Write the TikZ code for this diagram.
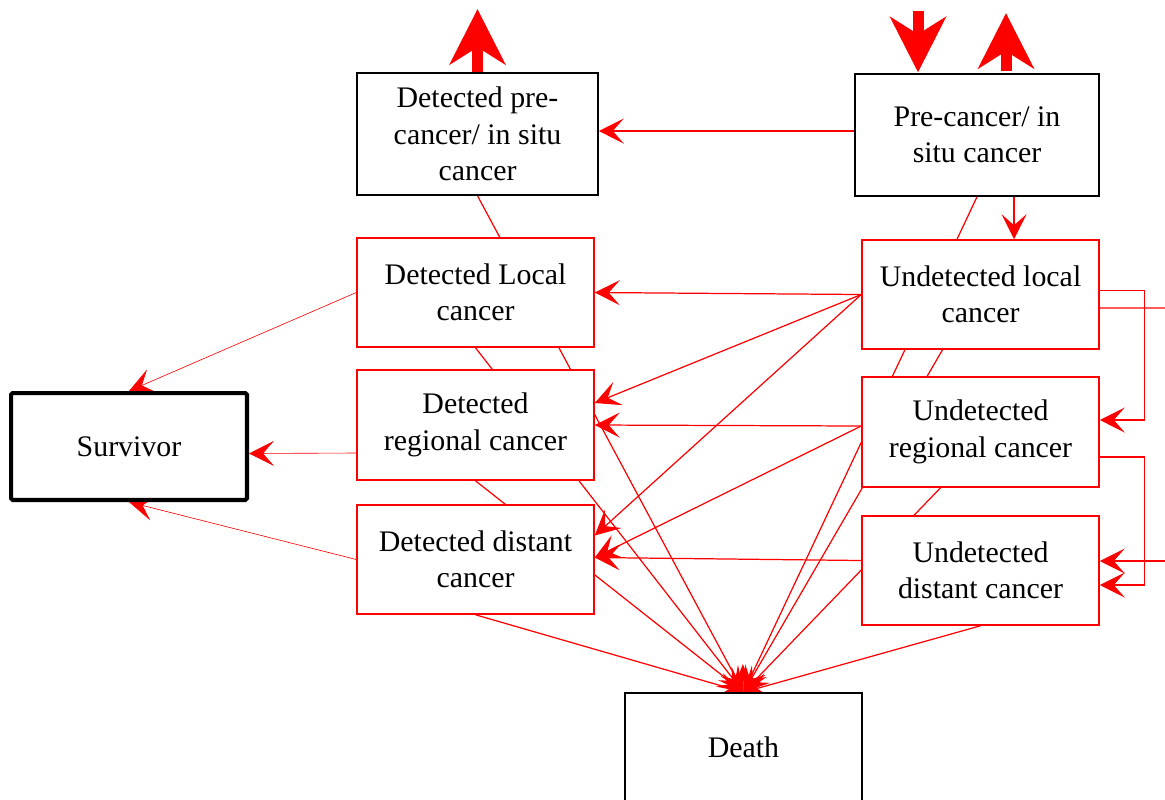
\documentclass[tikz,border=0pt]{standalone}
\usepackage{fontspec}
\setmainfont{Liberation Serif}
\usepackage{xcolor}
\definecolor{flowred}{HTML}{FF0000}
\usetikzlibrary{arrows.meta,calc,backgrounds}

\begin{document}
\begin{tikzpicture}[x=0.02cm, y=-0.02cm,
  stagebox/.style={draw=black, fill=white, line width=0.9pt, align=center, inner sep=0pt,
    font=\fontsize{17}{20.7}\selectfont},
  redbox/.style={stagebox, draw=flowred, minimum width=4.74cm, minimum height=2.18cm},
  link/.style={draw=flowred, line width=0.7pt},
  flow/.style={link, -{Stealth[length=0.5cm, width=0.5cm, inset=0.22cm]}},
  thinflow/.style={flow, line width=0.35pt},
  bigflow/.style={draw=flowred, line width=0.22cm,
    -{Stealth[length=1.12cm, width=1.14cm, inset=0.36cm, line width=0pt]}}]
  \useasboundingbox (0,0) rectangle (1165,799);
  % Stages of the cancer model
  \node[stagebox, minimum width=4.82cm, minimum height=2.44cm] (dpre) at (477.5,134)
    {Detected pre-\\cancer/ in situ\\cancer};
  \node[stagebox, minimum width=4.88cm, minimum height=2.44cm] (pre) at (977,135)
    {Pre-cancer/ in\\situ cancer};
  \node[redbox] (dloc) at (475.5,292.5) {Detected Local\\cancer};
  \node[redbox] (uloc) at (980.5,294.5) {Undetected local\\cancer};
  \node[redbox, minimum height=2.2cm] (dreg) at (475.5,425) {Detected\\regional cancer};
  \node[redbox, minimum height=2.2cm] (ureg) at (980.5,432) {Undetected\\regional cancer};
  \node[redbox] (ddis) at (475.5,559.5) {Detected distant\\cancer};
  \node[redbox] (udis) at (980.5,570.5) {Undetected\\distant cancer};
  \node[stagebox, line width=2.3pt, rounded corners=1pt, minimum width=4.72cm, minimum height=2.14cm]
    (surv) at (129,446.5) {Survivor};
  \node[stagebox, minimum width=4.74cm, minimum height=2.18cm] (death) at (743.5,747.5) {Death};
  \coordinate (outR) at (1165,308);
  \coordinate (inR) at (1165,561);

  \begin{scope}[on background layer]
    % transitions to death
    \foreach \src in {dpre,dloc,dreg,ddis,pre,udis}
      \draw[flow] (\src.south) -- (death.north);
    \draw[flow] ($(uloc.south)+(-38,0)$) -- (death.north);
    \draw[flow] ($(ureg.south)+(-40,0)$) -- (death.north);
    % detection of undetected stages
    \draw[flow] ($(pre.west)+(0,-4)$) -- ($(dpre.east)+(0,-3)$);
    \draw[flow] (uloc.west) -- (dloc.east);
    \draw[flow] (uloc.west) -- ($(dreg.east)+(0,-22)$);
    \draw[flow] (uloc.west) -- ($(ddis.east)+(0,-24)$);
    \draw[flow] ($(ureg.west)+(0,-6)$) -- (dreg.east);
    \draw[flow] ($(ureg.west)+(0,-6)$) -- ($(ddis.east)+(0,-2)$);
    \draw[flow] ($(udis.west)+(0,-10)$) -- ($(ddis.east)+(0,-2)$);
    % survivors
    \draw[thinflow] (dloc.west) -- (surv.north);
    \draw[thinflow] ($(dreg.west)+(0,28)$) -- ($(surv.east)+(0,7)$);
    \draw[thinflow] (ddis.west) -- (surv.south);
    % progression
    \draw[flow, line width=1.1pt] ($(pre.south)+(37,0)$) -- ($(uloc.north)+(33.5,0)$);
    \draw[flow] ($(uloc.east)+(0,-4)$) -- ++(45,0) |- ($(ureg.east)+(0,-12)$);
    \draw[flow] ($(ureg.east)+(0,25)$) -- ++(45,0) |- ($(udis.east)+(0,14.5)$);
    \draw[link] ($(uloc.east)+(0,13.5)$) -- (outR);
    \draw[flow] (inR) -- ($(udis.east)+(0,-9.5)$);
  \end{scope}

  % flows in and out of the model
  \draw[bigflow] (dpre.north) -- ++(0,-63);
  \draw[bigflow] ($(pre.north)+(-59,-62)$) -- ($(pre.north)+(-59,-1)$);
  \draw[bigflow] ($(pre.north)+(29,-2)$) -- ++(0,-58);
\end{tikzpicture}
\end{document}
